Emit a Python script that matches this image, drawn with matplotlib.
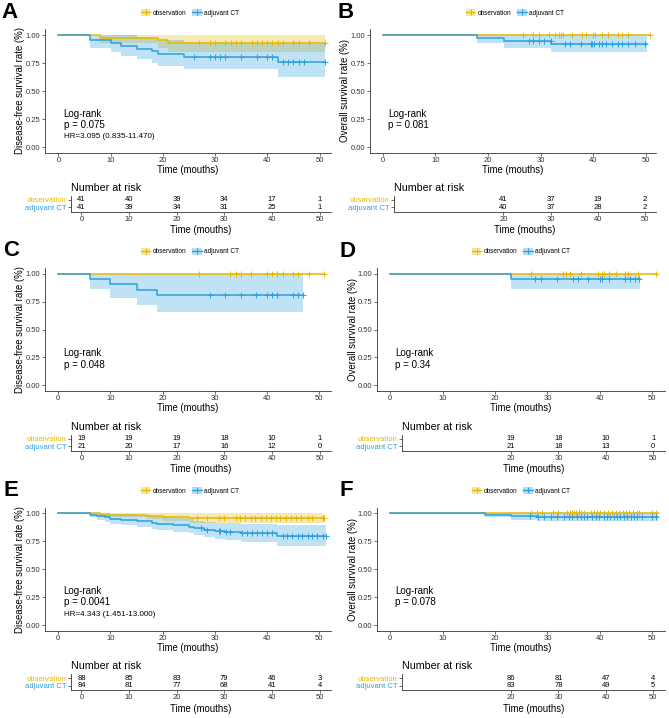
import bisect
import matplotlib
matplotlib.use("Agg")
import matplotlib.pyplot as plt
from matplotlib.patches import Patch
from matplotlib.lines import Line2D

plt.rcParams['font.family'] = ['Liberation Sans', 'DejaVu Sans']

OBS_COLOR = "#E7B800"
ADJ_COLOR = "#2E9FDF"
W, H = 669, 718

group_labels = ["observation", "adjuvant CT"]
risk_times_full = [0, 10, 20, 30, 40, 50]
risk_times_late = [20, 30, 40, 50]
y_ticks = [0, 0.25, 0.5, 0.75, 1.0]
y_tick_labels = ["0.00", "0.25", "0.50", "0.75", "1.00"]

# ---- A: disease-free survival, all patients
a_obs_t = [0, 8, 19, 21]
a_obs_s = [1, 0.976, 0.951, 0.927]
a_obs_lo = [1, 0.93, 0.887, 0.85]
a_obs_hi = [1, 1, 1, 1]
a_obs_end = 51
a_obs_cens = [27, 29, 30, 32, 33, 34, 35, 37, 38, 39, 40, 41, 42, 43, 45, 46, 48, 51]
a_adj_t = [0, 6, 10, 12, 15, 18, 19, 24, 42]
a_adj_s = [1, 0.951, 0.927, 0.902, 0.878, 0.854, 0.829, 0.805, 0.76]
a_adj_lo = [1, 0.886, 0.85, 0.816, 0.783, 0.752, 0.722, 0.695, 0.628]
a_adj_hi = [1, 1, 1, 0.998, 0.984, 0.969, 0.953, 0.932, 0.92]
a_adj_end = 51
a_adj_cens = [26, 29, 30, 31, 32, 35, 38, 40, 41, 43, 44, 45, 46, 47, 51]
a_risk_obs = [41, 40, 39, 34, 17, 1]
a_risk_adj = [41, 39, 34, 31, 25, 1]

# ---- B: overall survival, all patients
b_obs_t = [0]
b_obs_s = [1]
b_obs_lo = [1]
b_obs_hi = [1]
b_obs_end = 50.8
b_obs_cens = [26.6, 28.6, 29.7, 31.6, 32.7, 33.5, 33.8, 34.2, 36, 37.8, 38.7, 40, 40.3,
              41.6, 42.7, 44.6, 45.5, 46.6, 50.8]
b_adj_t = [0, 18, 23, 32]
b_adj_s = [1, 0.975, 0.95, 0.923]
b_adj_lo = [1, 0.927, 0.885, 0.845]
b_adj_hi = [1, 1, 1, 1]
b_adj_end = 50.2
b_adj_cens = [27.7, 28.6, 29.7, 30.7, 31.9, 34.6, 35.6, 37.6, 39.6, 39.8, 40.1, 41, 41.6,
              42.5, 43.5, 44.6, 45.5, 46.5, 47.9, 49.8]
b_risk_obs = [41, 37, 19, 2]
b_risk_adj = [40, 37, 28, 2]

# ---- C: disease-free survival, subgroup
c_obs_t = [0]
c_obs_s = [1]
c_obs_lo = [1]
c_obs_hi = [1]
c_obs_end = 51
c_obs_cens = [27, 33, 34, 35, 37, 40, 41, 42, 43, 45, 46, 48, 51]
c_adj_t = [0, 6, 10, 15, 19]
c_adj_s = [1, 0.952, 0.905, 0.857, 0.81]
c_adj_lo = [1, 0.863, 0.786, 0.72, 0.66]
c_adj_hi = [1, 1, 1, 1, 1]
c_adj_end = 47
c_adj_cens = [29, 32, 35, 38, 40, 41, 42, 45, 46, 47]
c_risk_obs = [19, 19, 19, 18, 10, 1]
c_risk_adj = [21, 20, 17, 16, 12, 0]

# ---- D: overall survival, subgroup
d_obs_t = [0]
d_obs_s = [1]
d_obs_lo = [1]
d_obs_hi = [1]
d_obs_end = 50.8
d_obs_cens = [26.8, 32.9, 33.5, 34.3, 36.3, 39.7, 40.3, 40.7, 41.7, 43, 44.8, 45.4, 47.2, 50.6]
d_adj_t = [0, 23]
d_adj_s = [1, 0.952]
d_adj_lo = [1, 0.863]
d_adj_hi = [1, 1]
d_adj_end = 47.6
d_adj_cens = [27.6, 28.7, 31.8, 34.9, 35.8, 37.7, 40, 40.3, 41.7, 44.8, 45.7, 46.7, 47.5]
d_risk_obs = [19, 18, 10, 1]
d_risk_adj = [21, 18, 13, 0]

# ---- E: disease-free survival, matched cohort
e_obs_t = [0, 8, 17, 20, 25]
e_obs_s = [1, 0.989, 0.977, 0.966, 0.955]
e_obs_lo = [1, 0.967, 0.946, 0.929, 0.912]
e_obs_hi = [1, 1, 1, 1, 1]
e_obs_end = 51
e_obs_cens = [26.6, 28.5, 30.8, 31.7, 34, 34.9, 35.9, 36.9, 37.8, 38.8, 39.8, 40.7, 41.7,
              42.6, 43.6, 44.6, 45.5, 46.5, 47.8, 48.7, 50.7, 51]
e_adj_t = [0, 6, 7.4, 9, 10, 12, 15, 18, 19, 22, 25, 26, 28, 30, 32, 35, 42]
e_adj_s = [1, 0.988, 0.976, 0.964, 0.952, 0.94, 0.928, 0.916, 0.904, 0.892, 0.88, 0.866,
           0.851, 0.841, 0.833, 0.82, 0.794]
e_adj_lo = [1, 0.965, 0.944, 0.925, 0.908, 0.892, 0.877, 0.862, 0.848, 0.834, 0.82, 0.803,
            0.785, 0.772, 0.762, 0.745, 0.71]
e_adj_hi = [1, 1, 1, 1, 0.998, 0.99, 0.982, 0.973, 0.964, 0.955, 0.945, 0.934, 0.923,
            0.916, 0.91, 0.903, 0.895]
e_adj_end = 51.3
e_adj_cens = [27.3, 28.5, 30.8, 31.1, 32.1, 33, 35.3, 36.2, 37.2, 38.1, 39.1, 40.1, 41,
              43, 43.9, 44.9, 45.9, 46.8, 47.8, 48.7, 49.7, 50.7, 51.3]
e_risk_obs = [88, 85, 83, 79, 46, 3]
e_risk_adj = [84, 81, 77, 68, 41, 4]

# ---- F: overall survival, matched cohort
f_obs_t = [0]
f_obs_s = [1]
f_obs_lo = [1]
f_obs_hi = [1]
f_obs_end = 51
f_obs_cens = [26.8, 28, 29, 31, 32, 33.8, 34.2, 34.6, 35, 35.5, 36, 36.4, 37, 38.2, 38.8,
              39.5, 40.1, 40.8, 41.5, 42.3, 43, 43.6, 44.3, 45, 45.6, 46.3, 47, 47.5, 50, 50.7]
f_adj_t = [0, 18, 23, 28]
f_adj_s = [1, 0.988, 0.976, 0.964]
f_adj_lo = [1, 0.965, 0.944, 0.93]
f_adj_hi = [1, 1, 1, 1]
f_adj_end = 51
f_adj_cens = [26.7, 28.2, 29.3, 30.6, 31.9, 33.1, 34.1, 34.7, 35.7, 36.3, 36.9, 37.6, 38.5,
              39.2, 39.8, 40.8, 41.4, 42, 42.7, 43.3, 43.9, 44.6, 45.2, 45.9, 46.5, 47.1,
              48.1, 50, 50.6]
f_risk_obs = [86, 81, 47, 4]
f_risk_adj = [83, 78, 49, 5]

dfs_label = "Disease-free survival rate (%)"
os_label = "Overall survival rate (%)"


def box(l, r, t, b):
    return [l / W, 1 - b / H, (r - l) / W, (b - t) / H]


def draw_curve(ax, t, s, lo, hi, end, cens, color):
    tt = list(t) + [end]
    ax.fill_between(tt, list(lo) + [lo[-1]], list(hi) + [hi[-1]], step='post',
                    color=color, alpha=0.3, lw=0)
    ax.step(tt, list(s) + [s[-1]], where='post', color=color, lw=1.1)
    ys = [s[bisect.bisect_right(t, c) - 1] for c in cens]
    ax.plot(cens, ys, ls='none', marker='+', color=color, ms=4.5, mew=0.7)


def style_axes(ax):
    for side in ['top', 'right']:
        ax.spines[side].set_visible(False)
    for side in ['left', 'bottom']:
        ax.spines[side].set_linewidth(0.6)
        ax.spines[side].set_color('#333333')
    ax.tick_params(length=2, width=0.5, pad=1.2, labelsize=5.5, colors='#333333')


panels = [
    dict(letter="A", ylab=dfs_label, obs=(a_obs_t, a_obs_s, a_obs_lo, a_obs_hi, a_obs_end, a_obs_cens),
         adj=(a_adj_t, a_adj_s, a_adj_lo, a_adj_hi, a_adj_end, a_adj_cens),
         risk=(risk_times_full, a_risk_obs, a_risk_adj), text=["Log-rank", "p = 0.075"],
         hr="HR=3.095 (0.835-11.470)", tpos=(1.0, 0.294, 0.197, 0.097),
         main=(45, 331, 29.4, 152.6), mxl=(-2.55, 52.2), tab=(71, 331, 195.6, 211.7), txl=(-2.2, 52.4),
         ylx=20, letter_xy=(10, 12), leg_x=190),
    dict(letter="B", ylab=os_label, obs=(b_obs_t, b_obs_s, b_obs_lo, b_obs_hi, b_obs_end, b_obs_cens),
         adj=(b_adj_t, b_adj_s, b_adj_lo, b_adj_hi, b_adj_end, b_adj_cens),
         risk=(risk_times_late, b_risk_obs, b_risk_adj), text=["Log-rank", "p = 0.081"],
         hr=None, tpos=(1.1, 0.294, 0.197, 0),
         main=(370, 656, 29.4, 152.6), mxl=(-2.4, 51.9), tab=(394.3, 656, 195.6, 211.7), txl=(-3.1, 52.3),
         ylx=345, letter_xy=(346, 12), leg_x=515),
    dict(letter="C", ylab=dfs_label, obs=(c_obs_t, c_obs_s, c_obs_lo, c_obs_hi, c_obs_end, c_obs_cens),
         adj=(c_adj_t, c_adj_s, c_adj_lo, c_adj_hi, c_adj_end, c_adj_cens),
         risk=(risk_times_full, c_risk_obs, c_risk_adj), text=["Log-rank", "p = 0.048"],
         hr=None, tpos=(1.0, 0.289, 0.185, 0),
         main=(45, 331, 268.1, 390.9), mxl=(-2.55, 52.3), tab=(71, 331, 434.6, 450.7), txl=(-2.2, 52.4),
         ylx=20, letter_xy=(11, 250), leg_x=190),
    dict(letter="D", ylab=os_label, obs=(d_obs_t, d_obs_s, d_obs_lo, d_obs_hi, d_obs_end, d_obs_cens),
         adj=(d_adj_t, d_adj_s, d_adj_lo, d_adj_hi, d_adj_end, d_adj_cens),
         risk=(risk_times_late, d_risk_obs, d_risk_adj), text=["Log-rank", "p = 0.34"],
         hr=None, tpos=(0.95, 0.29, 0.185, 0),
         main=(377, 665, 268.1, 390.9), mxl=(-2.5, 52.4), tab=(401.7, 665, 434.6, 450.7), txl=(-3.1, 52.5),
         ylx=353, letter_xy=(348, 251), leg_x=521),
    dict(letter="E", ylab=dfs_label, obs=(e_obs_t, e_obs_s, e_obs_lo, e_obs_hi, e_obs_end, e_obs_cens),
         adj=(e_adj_t, e_adj_s, e_adj_lo, e_adj_hi, e_adj_end, e_adj_cens),
         risk=(risk_times_full, e_risk_obs, e_risk_adj), text=["Log-rank", "p = 0.0041"],
         hr="HR=4.343 (1.451-13.000)", tpos=(1.0, 0.303, 0.206, 0.097),
         main=(45, 331, 507.7, 630.6), mxl=(-2.55, 52.3), tab=(71, 331, 673.9, 690), txl=(-2.2, 52.4),
         ylx=20, letter_xy=(11, 490), leg_x=190),
    dict(letter="F", ylab=os_label, obs=(f_obs_t, f_obs_s, f_obs_lo, f_obs_hi, f_obs_end, f_obs_cens),
         adj=(f_adj_t, f_adj_s, f_adj_lo, f_adj_hi, f_adj_end, f_adj_cens),
         risk=(risk_times_late, f_risk_obs, f_risk_adj), text=["Log-rank", "p = 0.078"],
         hr=None, tpos=(0.95, 0.303, 0.206, 0),
         main=(377, 665, 507.7, 630.6), mxl=(-2.5, 52.4), tab=(401.7, 665, 673.9, 690), txl=(-3.1, 52.5),
         ylx=353, letter_xy=(346, 490), leg_x=521),
]

fig = plt.figure(figsize=(W / 100, H / 100), dpi=100)

legend_handles = [
    (Patch(facecolor=OBS_COLOR, alpha=0.35, edgecolor='none'),
     Line2D([], [], color=OBS_COLOR, lw=1.0, marker='+', ms=4.5, mew=0.7)),
    (Patch(facecolor=ADJ_COLOR, alpha=0.35, edgecolor='none'),
     Line2D([], [], color=ADJ_COLOR, lw=1.0, marker='+', ms=4.5, mew=0.7)),
]

for p in panels:
    l, r, t, b = p["main"]
    ax = fig.add_axes(box(l, r, t, b))
    draw_curve(ax, *p["obs"], OBS_COLOR)
    draw_curve(ax, *p["adj"], ADJ_COLOR)
    ax.set_xlim(*p["mxl"])
    ax.set_ylim(-0.05, 1.05)
    ax.set_xticks([0, 10, 20, 30, 40, 50])
    ax.set_yticks(y_ticks)
    ax.set_yticklabels(y_tick_labels)
    style_axes(ax)

    x0, y1, y2, y3 = p["tpos"]
    ax.text(x0, y1, p["text"][0], fontsize=7, va='center')
    ax.text(x0, y2, p["text"][1], fontsize=7, va='center')
    if p["hr"]:
        ax.text(x0, y3, p["hr"], fontsize=5.8, va='center')

    fig.text((l + r) / 2 / W, 1 - (b + 17.5) / H, "Time (mouths)", fontsize=6.9,
             ha='center', va='center')
    fig.text(p["ylx"] / W, 1 - (t + b) / 2 / H, p["ylab"], fontsize=6.9, rotation=90,
             ha='center', va='center')
    lx, ly = p["letter_xy"]
    fig.text(lx / W, 1 - ly / H, p["letter"], fontsize=16, fontweight='bold',
             ha='center', va='center')
    fig.legend(legend_handles, group_labels, loc='center',
               bbox_to_anchor=(p["leg_x"] / W, 1 - (t - 16.5) / H), ncol=2, frameon=False,
               fontsize=4.7, handlelength=1.5, handleheight=1.3, handletextpad=0.4,
               columnspacing=0.8, borderpad=0)

    # number at risk table
    tl, tr, tt, tb = p["tab"]
    tax = fig.add_axes(box(tl, tr, tt, tb))
    times, n_obs, n_adj = p["risk"]
    for x, n in zip(times, n_obs):
        tax.text(x, 2, str(n), fontsize=5.5, ha='center', va='center')
    for x, n in zip(times, n_adj):
        tax.text(x, 1, str(n), fontsize=5.5, ha='center', va='center')
    tax.set_xlim(*p["txl"])
    tax.set_ylim(0.4, 2.6)
    tax.set_xticks(times)
    tax.set_yticks([2, 1])
    tax.set_yticklabels(group_labels)
    style_axes(tax)
    for lab, c in zip(tax.get_yticklabels(), [OBS_COLOR, ADJ_COLOR]):
        lab.set_color(c)
    fig.text(tl / W, 1 - (tt - 7.6) / H, "Number at risk", fontsize=7.7, ha='left', va='center')
    fig.text((tl + tr) / 2 / W, 1 - (tb + 18.5) / H, "Time (mouths)", fontsize=6.9,
             ha='center', va='center')

fig.savefig("out.png", dpi=100)
